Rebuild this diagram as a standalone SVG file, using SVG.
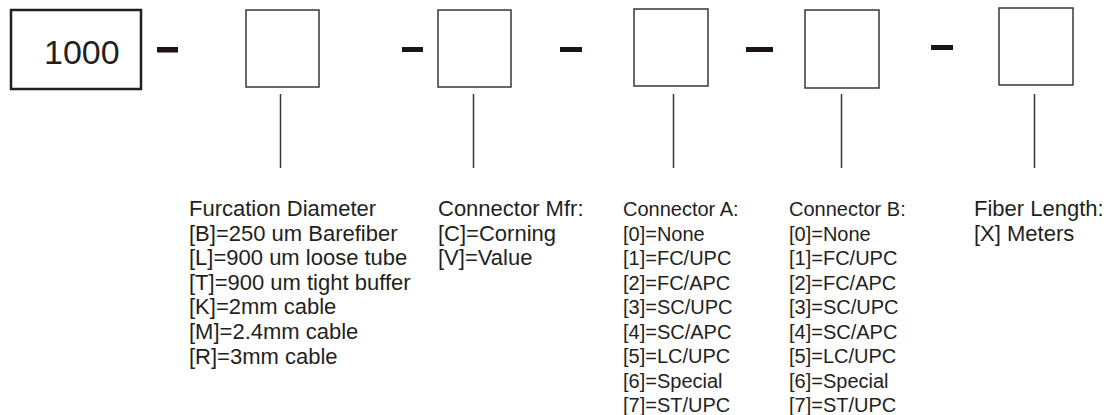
<svg xmlns="http://www.w3.org/2000/svg" width="1111" height="415" viewBox="0 0 1111 415">
<style>
.box{fill:#fff;stroke:#3a3636;stroke-width:1.5}
.main{fill:#fff;stroke:#231f20;stroke-width:2.5}
.dash{fill:#1a1414}
.con{stroke:#3a3636;stroke-width:1.5;fill:none}
.t{font-family:"Liberation Sans",Arial,sans-serif;font-size:22px;fill:#231f20}
.n{font-family:"Liberation Sans",Arial,sans-serif;font-size:20px;fill:#231f20}
</style>
<rect width="1111" height="415" fill="#fff"/>
<g id="node-1000">
<rect class="main" x="11" y="10" width="130" height="79"/>
<text x="44" y="64" style="font-family:'Liberation Sans',Arial,sans-serif;font-size:34px;fill:#231f20">1000</text>
</g>
<g id="dashes">
<rect class="dash" x="157" y="47" width="21" height="5.5"/>
<rect class="dash" x="402" y="47" width="21" height="5"/>
<rect class="dash" x="560" y="47" width="22" height="5"/>
<rect class="dash" x="746" y="47" width="27" height="5"/>
<rect class="dash" x="931" y="45" width="22" height="5"/>
</g>
<g id="node-furcation">
<rect class="box" x="246" y="10" width="73" height="77"/>
<text class="t" x="189" y="216">
<tspan x="189" dy="0">Furcation Diameter</tspan>
<tspan x="189" dy="24.6">[B]=250 um Barefiber</tspan>
<tspan x="189" dy="24.6">[L]=900 um loose tube</tspan>
<tspan x="189" dy="24.6">[T]=900 um tight buffer</tspan>
<tspan x="189" dy="24.6">[K]=2mm cable</tspan>
<tspan x="189" dy="24.6">[M]=2.4mm cable</tspan>
<tspan x="189" dy="24.6">[R]=3mm cable</tspan>
</text>
</g>
<g id="node-mfr">
<rect class="box" x="438" y="10" width="73" height="77"/>
<text class="t" x="438" y="216">
<tspan x="438" dy="0">Connector Mfr:</tspan>
<tspan x="438" dy="24.6">[C]=Corning</tspan>
<tspan x="438" dy="24.6">[V]=Value</tspan>
</text>
</g>
<g id="node-connA">
<rect class="box" x="634" y="9" width="74" height="77"/>
<text class="n" x="623" y="216">
<tspan x="623" dy="0">Connector A:</tspan>
<tspan x="623" dy="24.5">[0]=None</tspan>
<tspan x="623" dy="24.5">[1]=FC/UPC</tspan>
<tspan x="623" dy="24.5">[2]=FC/APC</tspan>
<tspan x="623" dy="24.5">[3]=SC/UPC</tspan>
<tspan x="623" dy="24.5">[4]=SC/APC</tspan>
<tspan x="623" dy="24.5">[5]=LC/UPC</tspan>
<tspan x="623" dy="24.5">[6]=Special</tspan>
<tspan x="623" dy="24.5">[7]=ST/UPC</tspan>
</text>
</g>
<g id="node-connB">
<rect class="box" x="805" y="10" width="74" height="78"/>
<text class="n" x="789" y="216">
<tspan x="789" dy="0">Connector B:</tspan>
<tspan x="789" dy="24.5">[0]=None</tspan>
<tspan x="789" dy="24.5">[1]=FC/UPC</tspan>
<tspan x="789" dy="24.5">[2]=FC/APC</tspan>
<tspan x="789" dy="24.5">[3]=SC/UPC</tspan>
<tspan x="789" dy="24.5">[4]=SC/APC</tspan>
<tspan x="789" dy="24.5">[5]=LC/UPC</tspan>
<tspan x="789" dy="24.5">[6]=Special</tspan>
<tspan x="789" dy="24.5">[7]=ST/UPC</tspan>
</text>
</g>
<g id="node-length">
<rect class="box" x="999" y="8" width="74" height="77"/>
<text class="t" x="974" y="216">
<tspan x="974" dy="0">Fiber Length:</tspan>
<tspan x="974" dy="24.6">[X] Meters</tspan>
</text>
</g>
<g id="connectors">
<line class="con" x1="280.5" y1="94" x2="280.5" y2="168"/>
<line class="con" x1="473.5" y1="94" x2="473.5" y2="168"/>
<line class="con" x1="673.5" y1="94" x2="673.5" y2="168"/>
<line class="con" x1="841.5" y1="94" x2="841.5" y2="168"/>
<line class="con" x1="1034.5" y1="94" x2="1034.5" y2="168"/>
</g>
</svg>
